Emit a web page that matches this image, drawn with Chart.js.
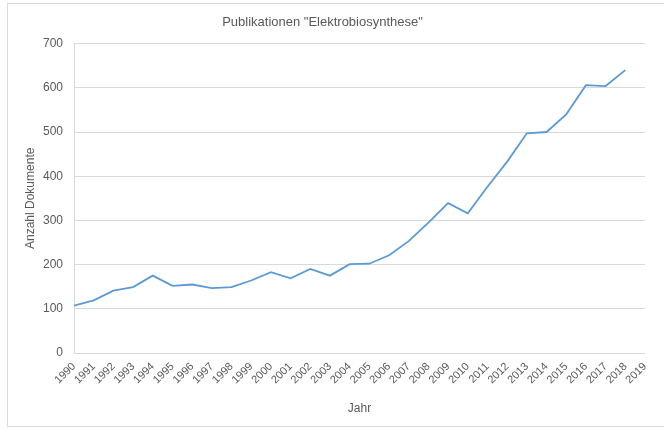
<!DOCTYPE html>
<html>
<head>
<meta charset="utf-8">
<script src="https://cdn.jsdelivr.net/npm/chart.js@4/dist/chart.umd.min.js"></script>
<style>
  html, body { margin: 0; padding: 0; background: #fff; }
  #wrap { width: 664px; height: 430px; }
</style>
</head>
<body>
<div id="wrap"><canvas id="chart" width="664" height="430"></canvas></div>
<script>
const years = [];
for (let y = 1990; y <= 2019; y++) years.push(String(y));

// Anzahl Dokumente pro Jahr, 2019 ohne Wert
const docs = [107, 119, 141, 149, 175, 152, 155, 147, 149, 164,
              183, 169, 190, 175, 201, 202, 221, 253, 295, 339,
              316, 376, 433, 497, 500, 540, 606, 604, 640, null];

const yTicks = [0, 100, 200, 300, 400, 500, 600, 700];

const titleText = 'Publikationen "Elektrobiosynthese"';
const xTitle = 'Jahr';
const yTitle = 'Anzahl Dokumente';

const FONT = "'Liberation Sans', Arial, sans-serif";
const GREY = '#595959';
const GRID = '#d9d9d9';

// chart area frame like Excel
const frame = {
  id: 'frame',
  beforeDraw(c) {
    const ctx = c.ctx;
    ctx.save();
    ctx.strokeStyle = GRID;
    ctx.lineWidth = 1;
    ctx.strokeRect(7.5, 3.5, 700, 423);
    ctx.restore();
  }
};

new Chart(document.getElementById('chart'), {
  type: 'line',
  data: {
    labels: years,
    datasets: [{
      label: yTitle,
      data: docs,
      borderColor: '#5b9bd5',
      borderWidth: 1.8,
      pointRadius: 0,
      tension: 0,
      fill: false
    }]
  },
  options: {
    responsive: false,
    animation: false,
    layout: { padding: { left: 0, right: 19, top: 0, bottom: 0 } },
    plugins: {
      legend: { display: false },
      tooltip: { enabled: false },
      title: {
        display: true,
        text: titleText,
        color: GREY,
        font: { family: FONT, size: 13, weight: 'normal' },
        padding: { top: 15, bottom: 13 }
      }
    },
    scales: {
      x: {
        type: 'category',
        offset: false,
        grid: { display: false, drawTicks: false },
        border: { display: false },
        ticks: {
          color: GREY,
          font: { family: FONT, size: 11 },
          minRotation: 45,
          maxRotation: 45,
          autoSkip: false,
          padding: 7
        },
        title: {
          display: true,
          text: xTitle,
          color: GREY,
          font: { family: FONT, size: 12 },
          padding: { top: 0, bottom: 14 }
        },
        afterFit(scale) { scale.height = 77; }
      },
      y: {
        min: 0,
        max: 700,
        afterBuildTicks(scale) { scale.ticks = yTicks.map(v => ({ value: v })); },
        grid: { color: GRID, lineWidth: 1, drawTicks: false },
        border: { display: true, color: GRID },
        ticks: {
          color: GREY,
          font: { family: FONT, size: 12 },
          padding: 11
        },
        title: {
          display: true,
          text: yTitle,
          color: GREY,
          font: { family: FONT, size: 12 },
          padding: { top: 23, bottom: 0 }
        },
        afterFit(scale) { scale.width = 74; }
      }
    }
  },
  plugins: [frame]
});
</script>
</body>
</html>
